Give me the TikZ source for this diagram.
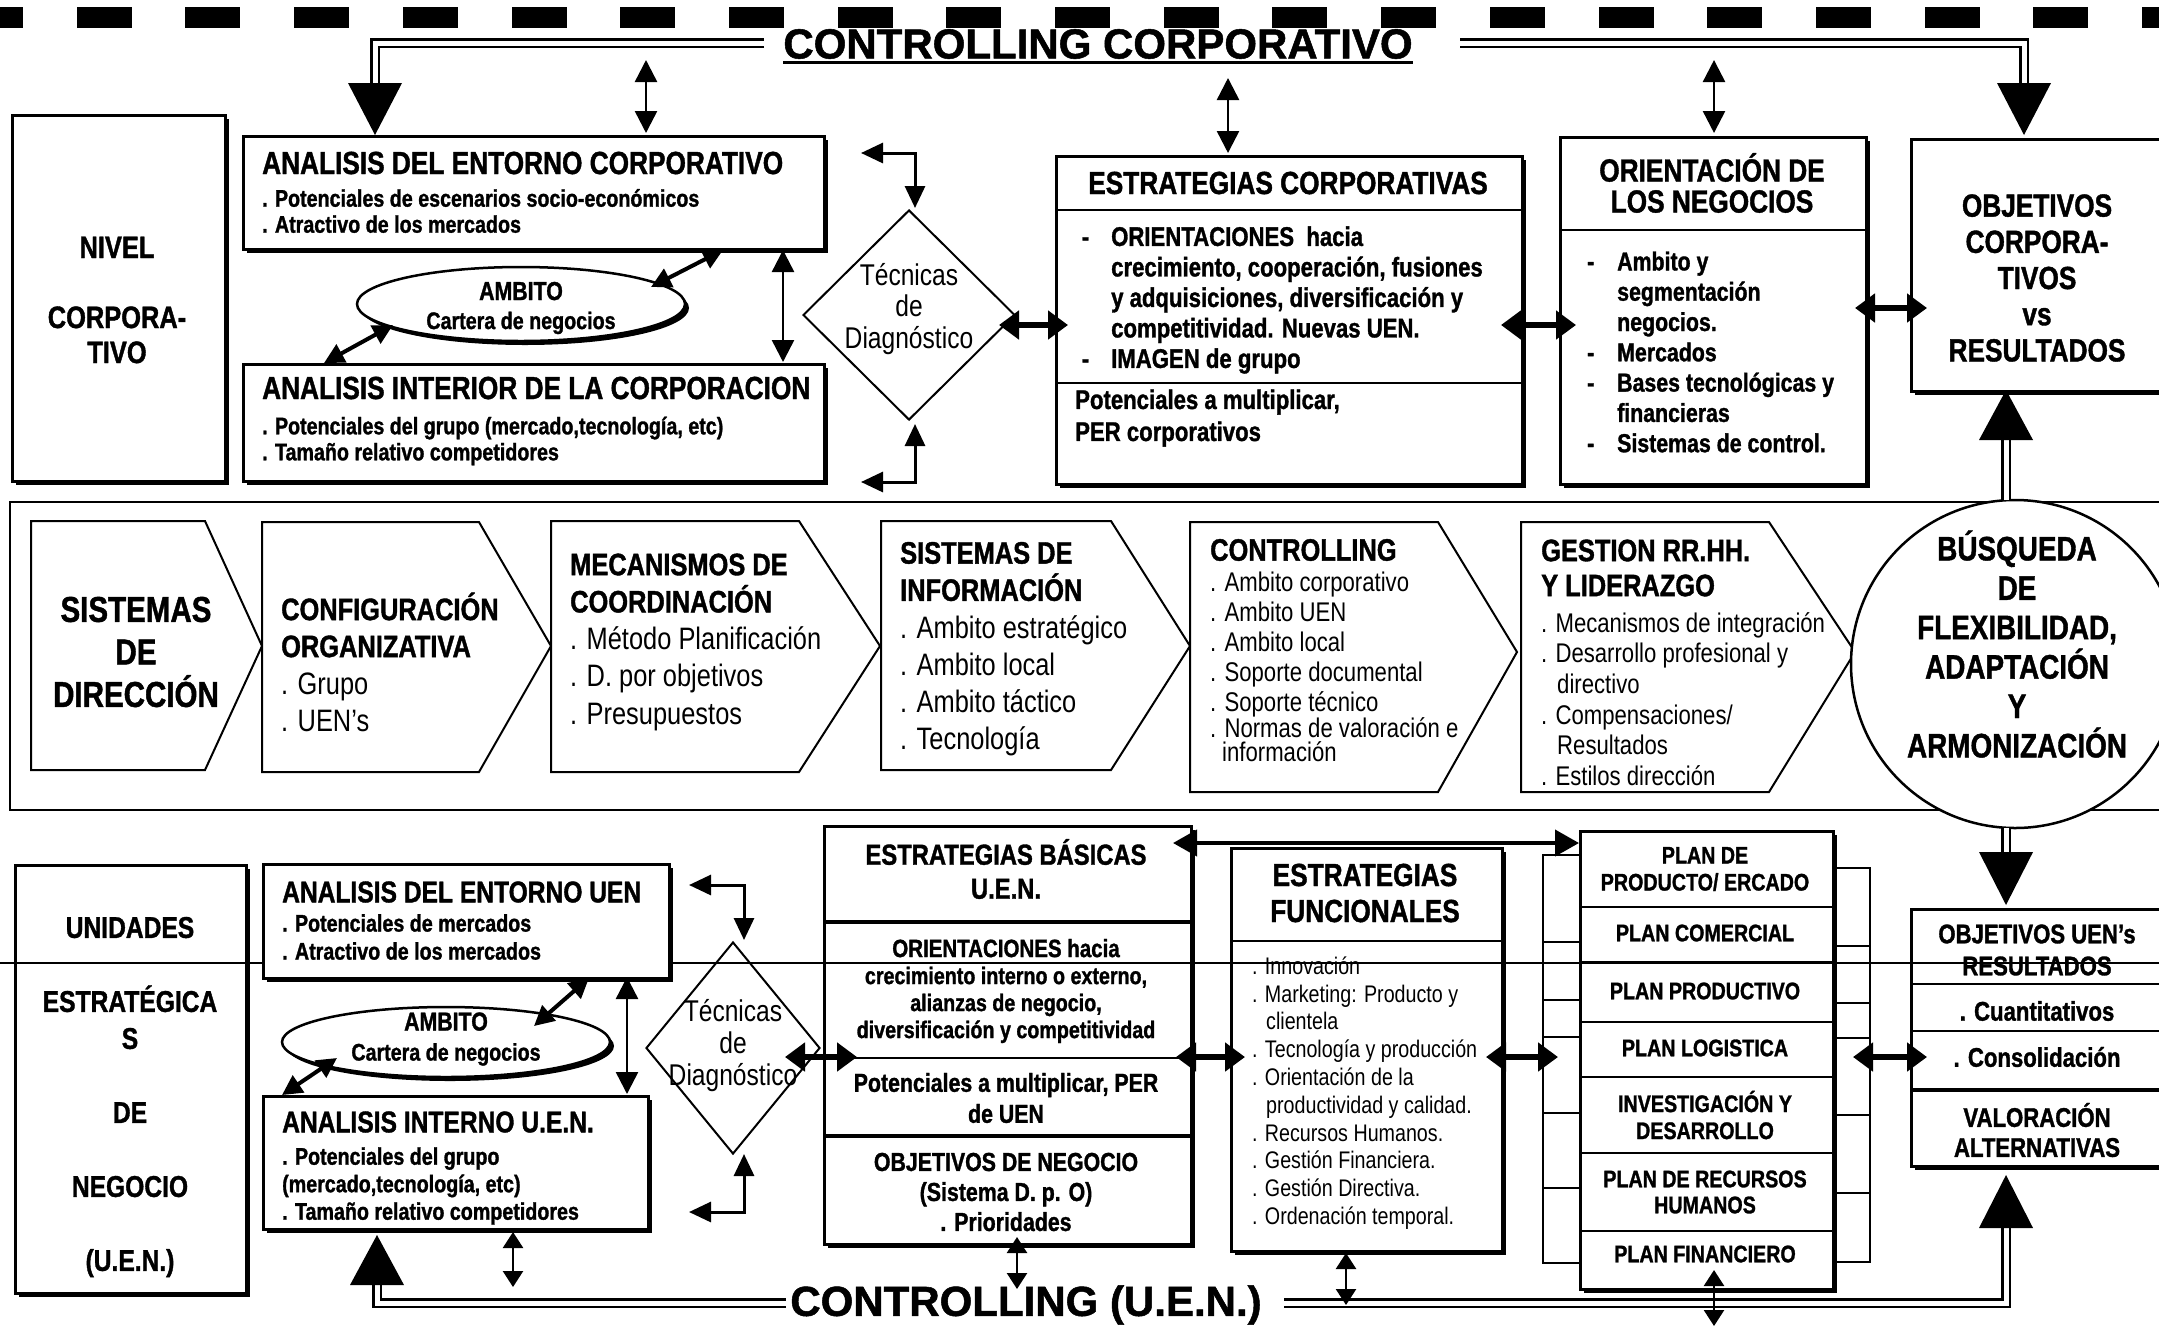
\documentclass[tikz,border=0pt]{standalone}
\usepackage{fontspec}
\setmainfont[BoldFeatures={FakeBold=1.2}]{Liberation Sans}
\newfontfamily\nar[FakeStretch=0.82,BoldFeatures={FakeBold=1.2}]{Liberation Sans}
\usetikzlibrary{arrows.meta,shapes.geometric,shadows}
\newcommand\fz[2]{\fontsize{#1pt}{#2pt}\selectfont}
\newcommand\bighead[3]{\fill (#1-27,#2) -- (#1+27,#2) -- (#1,#3) -- cycle;}
\begin{document}
\begin{tikzpicture}[x=1pt,y=-1pt,
  shd/.style={general shadow={fill=black,shadow xshift=4pt,shadow yshift=-4pt}},
  box/.style={draw,line width=2.5pt,fill=white,inner sep=0pt,anchor=north west,shd},
  txt/.style={inner sep=0pt,align=left,anchor=west},
  ctxt/.style={inner sep=0pt,align=center},
  chev/.style={draw,line width=2pt,fill=white},
  arr/.style={line width=3pt,{Triangle[length=22pt,width=20pt]}-{Triangle[length=22pt,width=20pt]}},
  harr/.style={line width=6pt,{Triangle[length=20pt,width=28pt]}-{Triangle[length=20pt,width=28pt]}},
  varr/.style={line width=2.5pt,{Triangle[length=22pt,width=22pt]}-{Triangle[length=22pt,width=22pt]}},
  sarr/.style={line width=2.5pt,{Triangle[length=16pt,width=20pt]}-{Triangle[length=16pt,width=20pt]}},
  darr/.style={line width=4pt,{Triangle[length=20pt,width=20pt]}-{Triangle[length=20pt,width=20pt]}},
  dline/.style={draw,line width=2.5pt,double=white,double distance=5pt},
]
\useasboundingbox (0,0) rectangle (2159,1326);
\clip (0,0) rectangle (2159,1326);
\fill[white] (0,0) rectangle (2159,1326);

% top dashed band
\foreach \k in {0,...,20} \fill ({-32+108.7*\k},7) rectangle ++(55,21);

% ===== NIVEL CORPORATIVO =====
\node[box,minimum width=213pt,minimum height=366pt] (nivel) at (11,114) {};
\node[ctxt,font=\nar\bfseries\fz{31}{35}] (nivelT) at (117,300) {NIVEL\\[35pt]CORPORA-\\TIVO};

\node[box,minimum width=581pt,minimum height=113pt] (ecorp) at (242,135) {};
\node[txt,font=\nar\bfseries\fz{32}{36}] (ecorpT) at (262,163) {ANALISIS DEL ENTORNO CORPORATIVO};
\node[txt,font=\nar\bfseries\fz{24}{26}] (ecorpI) at (262,211) {. Potenciales de escenarios socio-económicos\\. Atractivo de los mercados};

\node[ellipse,draw,line width=2.5pt,fill=white,shd,minimum width=328pt,minimum height=74pt,inner sep=0pt] (ell1) at (521,304) {};
\node[ctxt,font=\nar\bfseries\fz{24}{29}] (ell1T) at (521,308) {{\fz{26}{29}AMBITO}\\Cartera de negocios};

\node[box,minimum width=581pt,minimum height=117pt] (icorp) at (242,363) {};
\node[txt,font=\nar\bfseries\fz{32}{36}] (icorpT) at (262,388) {ANALISIS INTERIOR DE LA CORPORACION};
\node[txt,font=\nar\bfseries\fz{24}{26}] (icorpI) at (262,441) {. Potenciales del grupo (mercado,tecnología, etc)\\. Tamaño relativo competidores};

\node[diamond,draw,line width=2pt,fill=white,minimum width=212pt,minimum height=210pt,inner sep=0pt] (dg1) at (909,315) {};
\node[ctxt,font=\nar\fz{30}{31.5}] (dg1T) at (909,309) {Técnicas\\de\\Diagnóstico};

\node[box,minimum width=466pt,minimum height=328pt] (estc) at (1055,155) {};
\draw[line width=2.5pt] (1055,210) -- (1521,210);
\draw[line width=2.5pt] (1055,383) -- (1521,383);
\node[ctxt,font=\nar\bfseries\fz{32}{36}] (estcT) at (1288,183) {ESTRATEGIAS CORPORATIVAS};
\node[txt,font=\nar\bfseries\fz{27}{30.5}] (estcI) at (1111,300) {\llap{-\hspace{22pt}}ORIENTACIONES\ \ hacia\\crecimiento, cooperación, fusiones\\y adquisiciones, diversificación y\\competitividad. Nuevas UEN.\\\llap{-\hspace{22pt}}IMAGEN de grupo};
\node[txt,font=\nar\bfseries\fz{27}{32}] (estcP) at (1075,418) {Potenciales a multiplicar,\\PER corporativos};

\node[box,minimum width=306pt,minimum height=347pt] (orn) at (1559,136) {};
\draw[line width=2.5pt] (1559,230) -- (1865,230);
\node[ctxt,font=\nar\bfseries\fz{32}{31}] (ornT) at (1712,183) {ORIENTACIÓN DE\\LOS NEGOCIOS};
\node[txt,font=\nar\bfseries\fz{26}{30.3}] (ornI) at (1617,352) {\llap{-\hspace{23pt}}Ambito y\\segmentación\\negocios.\\\llap{-\hspace{23pt}}Mercados\\\llap{-\hspace{23pt}}Bases tecnológicas y\\financieras\\\llap{-\hspace{23pt}}Sistemas de control.};

\node[box,minimum width=265pt,minimum height=252pt] (objc) at (1910,138) {};
\node[ctxt,font=\nar\bfseries\fz{32}{36.2}] (objcT) at (2037,278) {OBJETIVOS\\CORPORA-\\TIVOS\\vs\\RESULTADOS};

% CONTROLLING CORPORATIVO
\node[inner sep=0pt,font=\bfseries\fz{42}{46}] (ccorp) at (1098,44) {CONTROLLING CORPORATIVO};
\draw[line width=2.5pt] ([yshift=-4pt]ccorp.base west) -- ([yshift=-4pt]ccorp.base east);

% ===== SISTEMAS DE DIRECCION band =====
\draw[line width=2pt] (10,502) rectangle (2175,810);
\draw[chev] (31,521) -- (205,521) -- (262,646) -- (205,770) -- (31,770) -- cycle;
\draw[chev] (262,522) -- (479,522) -- (551,646) -- (479,772) -- (262,772) -- cycle;
\draw[chev] (551,521) -- (799,521) -- (880,646) -- (799,772) -- (551,772) -- cycle;
\draw[chev] (881,521) -- (1111,521) -- (1190,646) -- (1111,770) -- (881,770) -- cycle;
\draw[chev] (1190,522) -- (1438,522) -- (1517,652) -- (1438,792) -- (1190,792) -- cycle;
\draw[chev] (1521,522) -- (1769,522) -- (1855,652) -- (1769,792) -- (1521,792) -- cycle;

\node[ctxt,font=\nar\bfseries\fz{36}{42.5}] (c1T) at (136,652) {SISTEMAS\\DE\\DIRECCIÓN};
\node[txt,font=\nar\fz{31}{37}] (c2T) at (281,662) {{\bfseries CONFIGURACIÓN}\\{\bfseries ORGANIZATIVA}\\. Grupo\\. UEN’s};
\node[txt,font=\nar\fz{31}{37.2}] (c3T) at (570,642) {{\bfseries MECANISMOS DE}\\{\bfseries COORDINACIÓN}\\. Método Planificación\\. D. por objetivos\\. Presupuestos};
\node[txt,font=\nar\fz{31}{37.2}] (c4T) at (900,649) {{\bfseries SISTEMAS DE}\\{\bfseries INFORMACIÓN}\\. Ambito estratégico\\. Ambito local\\. Ambito táctico\\. Tecnología};
\node[txt,font=\nar\bfseries\fz{31}{35}] (c5T) at (1210,550) {CONTROLLING};
\node[txt,font=\nar\fz{27}{30}] (c5I) at (1210,645) {. Ambito corporativo\\. Ambito UEN\\. Ambito local\\. Soporte documental\\. Soporte técnico};
\node[txt,font=\nar\fz{27}{24}] (c5J) at (1210,740) {. Normas de valoración e\\\hspace{12pt}información};
\node[txt,font=\nar\bfseries\fz{31}{35}] (c6T) at (1541,568) {GESTION RR.HH.\\Y LIDERAZGO};
\node[txt,font=\nar\fz{27}{30.6}] (c6I) at (1541,699) {. Mecanismos de integración\\. Desarrollo profesional y\\\hspace{16pt}directivo\\. Compensaciones/\\\hspace{16pt}Resultados\\. Estilos dirección};

\node[circle,draw,line width=2.5pt,fill=white,minimum size=328pt,inner sep=0pt] (busq) at (2015,664) {};
\node[ctxt,font=\nar\bfseries\fz{34}{39.4}] (busqT) at (2017,644) {BÚSQUEDA\\DE\\FLEXIBILIDAD,\\ADAPTACIÓN\\Y\\ARMONIZACIÓN};

% ===== UNIDADES ESTRATEGICAS =====
\node[box,minimum width=231pt,minimum height=428pt] (unid) at (14,864) {};
\node[ctxt,font=\nar\bfseries\fz{30}{37}] (unidT) at (130,1097) {UNIDADES\\[37pt]ESTRATÉGICA\\S\\[37pt]DE\\[37pt]NEGOCIO\\[37pt](U.E.N.)};

\node[ellipse,draw,line width=2.5pt,fill=white,shd,minimum width=328pt,minimum height=70pt,inner sep=0pt] (ell2) at (446,1042) {};
\node[ctxt,font=\nar\bfseries\fz{24}{30}] (ell2T) at (446,1039) {{\fz{26}{30}AMBITO}\\Cartera de negocios};

\node[box,minimum width=385pt,minimum height=133pt] (iuen) at (262,1095) {};
\node[txt,font=\nar\bfseries\fz{30}{34}] (iuenT) at (282,1122) {ANALISIS INTERNO U.E.N.};
\node[txt,font=\nar\bfseries\fz{24}{27.5}] (iuenI) at (282,1186) {. Potenciales del grupo\\(mercado,tecnología, etc)\\. Tamaño relativo competidores};

\node[diamond,draw,line width=2pt,fill=white,minimum width=174pt,minimum height=212pt,inner sep=0pt] (dg2) at (733,1048) {};
\node[ctxt,font=\nar\fz{30}{32}] (dg2T) at (733,1046) {Técnicas\\de\\Diagnóstico};

\node[box,minimum width=367pt,minimum height=418pt] (basc) at (823,825) {};
\draw[line width=4pt] (823,922) -- (1190,922);
\draw[line width=2pt] (823,1058) -- (1190,1058);
\draw[line width=4pt] (823,1136) -- (1190,1136);
\node[ctxt,font=\nar\bfseries\fz{29}{34}] (bascT) at (1006,869) {ESTRATEGIAS BÁSICAS\\U.E.N.};
\node[ctxt,font=\nar\bfseries\fz{24}{27}] (bascO) at (1006,991) {{\fz{25}{31}ORIENTACIONES hacia}\\crecimiento interno o externo,\\alianzas de negocio,\\diversificación y competitividad};
\node[ctxt,font=\nar\bfseries\fz{26}{31}] (bascP) at (1006,1098) {Potenciales a multiplicar, PER\\de UEN};
\node[ctxt,font=\nar\bfseries\fz{26}{30}] (bascG) at (1006,1192) {OBJETIVOS DE NEGOCIO\\(Sistema D. p. O)\\. Prioridades};

\node[box,minimum width=271pt,minimum height=403pt] (func) at (1230,847) {};
\draw[line width=2pt] (1230,941) -- (1501,941);
\node[ctxt,font=\nar\bfseries\fz{32}{36}] (funcT) at (1365,893) {ESTRATEGIAS\\FUNCIONALES};
\node[txt,font=\nar\fz{24}{27.8}] (funcI) at (1252,1093) {. Innovación\\. Marketing: Producto y\\\hspace{14pt}clientela\\. Tecnología y producción\\. Orientación de la\\\hspace{14pt}productividad y calidad.\\. Recursos Humanos.\\. Gestión Financiera.\\. Gestión Directiva.\\. Ordenación temporal.};

% plan stack
\draw[line width=2pt] (1579,855) -| (1543,1263) -- (1579,1263);
\draw[line width=2pt] (1832,868) -| (1870,1262) -- (1832,1262);
\foreach \yy in {942,1000,1037,1113,1188} \draw[line width=1.5pt] (1543,\yy) -- (1579,\yy);
\foreach \yy in {946,1003,1038,1115,1193} \draw[line width=1.5pt] (1832,\yy) -- (1870,\yy);
\node[box,minimum width=253pt,minimum height=458pt] (plan) at (1579,830) {};
\foreach \yy in {907,962,1022,1077,1153,1231} \draw[line width=1.5pt] (1579,\yy) -- (1832,\yy);
\node[ctxt,font=\nar\bfseries\fz{24}{27}] (p1) at (1705,869) {PLAN DE\\PRODUCTO/ ERCADO};
\node[ctxt,font=\nar\bfseries\fz{24}{27}] (p2) at (1705,933) {PLAN COMERCIAL};
\node[ctxt,font=\nar\bfseries\fz{24}{27}] (p3) at (1705,991) {PLAN PRODUCTIVO};
\node[ctxt,font=\nar\bfseries\fz{24}{27}] (p4) at (1705,1048) {PLAN LOGISTICA};
\node[ctxt,font=\nar\bfseries\fz{24}{27}] (p5) at (1705,1115) {INVESTIGACIÓN Y\\DESARROLLO};
\node[ctxt,font=\nar\bfseries\fz{24}{26}] (p6) at (1705,1192) {PLAN DE RECURSOS\\HUMANOS};
\node[ctxt,font=\nar\bfseries\fz{24}{27}] (p7) at (1705,1254) {PLAN FINANCIERO};

\node[box,minimum width=265pt,minimum height=257pt] (objU) at (1910,908) {};
\draw[line width=2pt] (1910,984) -- (2175,984);
\draw[line width=2pt] (1910,1031) -- (2175,1031);
\draw[line width=4pt] (1910,1090) -- (2175,1090);
\node[ctxt,font=\nar\bfseries\fz{27}{32}] (objUT) at (2037,950) {OBJETIVOS UEN’s\\RESULTADOS};
\node[ctxt,font=\nar\bfseries\fz{27}{30}] (objU1) at (2037,1011) {. Cuantitativos};
\node[ctxt,font=\nar\bfseries\fz{27}{30}] (objU2) at (2037,1057) {. Consolidación};
\node[ctxt,font=\nar\bfseries\fz{27}{30}] (objU3) at (2037,1130) {VALORACIÓN\\ALTERNATIVAS};

% thin horizontal line across the lower part
\draw[line width=1.5pt] (0,963) -- (2159,963);

\node[box,minimum width=406pt,minimum height=114pt] (euen) at (262,863) {};
\node[txt,font=\nar\bfseries\fz{30}{34}] (euenT) at (282,892) {ANALISIS DEL ENTORNO UEN};
\node[txt,font=\nar\bfseries\fz{24}{28}] (euenI) at (282,937) {. Potenciales de mercados\\. Atractivo de los mercados};

\node[inner sep=0pt,font=\bfseries\fz{42}{46}] (cuen) at (1026,1305) {CONTROLLING (U.E.N.)};

% ===== connectors: top =====
\draw[dline] (764,43) -- (375,43) -- (375,83);
\draw[dline] (1460,43) -- (2024,43) -- (2024,83);
\bighead{375}{83}{135}
\bighead{2024}{83}{135}
\draw[varr] (646,60) -- (646,133);
\draw[varr] (1228,78) -- (1228,153);
\draw[varr] (1714,60) -- (1714,133);

\draw[darr] (651,287) -- (723,250);
\draw[darr] (324,363) -- (393,325);
\draw[varr] (783,250) -- (783,362);
\draw[arr] (861,153) -- (915,153) -- (915,208);
\draw[arr] (861,482) -- (915,482) -- (915,424);
\draw[harr] (999,325) -- (1068,325);
\draw[harr] (1501,325) -- (1576,325);
\draw[harr] (1855,308) -- (1927,308);

% circle arrows
\draw[dline] (2006,500) -- (2006,440);
\bighead{2006}{440}{390}
\draw[dline] (2006,828) -- (2006,852);
\bighead{2006}{852}{905}

% ===== connectors: bottom =====
\draw[darr] (534,1026) -- (589,978);
\draw[darr] (282,1095) -- (337,1058);
\draw[varr] (627,977) -- (627,1094);
\draw[arr] (689,885) -- (744,885) -- (744,940);
\draw[arr] (689,1212) -- (744,1212) -- (744,1154);
\draw[harr] (785,1057) -- (857,1057);
\draw[harr] (1176,1057) -- (1245,1057);
\draw[harr] (1486,1057) -- (1558,1057);
\draw[harr] (1853,1057) -- (1927,1057);
\draw[line width=4pt,{Triangle[length=24pt,width=26pt]}-{Triangle[length=24pt,width=26pt]}] (1173,843) -- (1579,843);

\draw[dline] (786,1303) -- (377,1303) -- (377,1285);
\bighead{377}{1285}{1235}
\draw[dline] (1284,1303) -- (2006,1303) -- (2006,1228);
\bighead{2006}{1228}{1175}
\draw[sarr] (513,1232) -- (513,1287);
\draw[sarr] (1017,1237) -- (1017,1289);
\draw[sarr] (1346,1253) -- (1346,1305);
\draw[sarr] (1714,1270) -- (1714,1326);
\end{tikzpicture}
\end{document}
